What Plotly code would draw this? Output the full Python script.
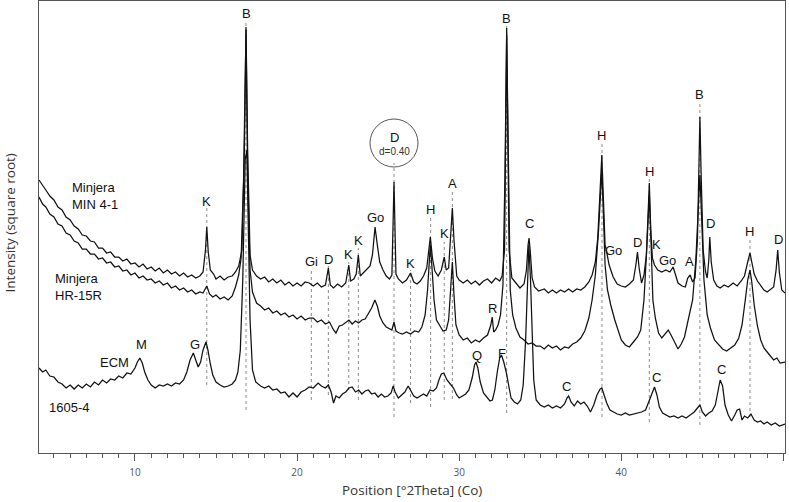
import plotly.graph_objects as go

# ---------------- data (2theta in degrees, intensity in arbitrary sqrt units) ----------------
min41_x = [4.08,4.3,4.5,4.75,5.0,5.25,5.5,5.75,6.0,6.25,6.5,6.75,7.0,7.25,7.5,7.75,8.0,8.25,8.5,8.75,9.0,9.25,9.5,9.75,10.0,10.25,10.5,10.75,11.0,11.25,11.5,11.75,12.0,12.25,12.5,12.75,13.0,13.25,13.5,13.75,14.0,14.2,14.35,14.43,14.52,14.65,14.85,15.0,15.25,15.5,15.75,16.0,16.2,16.4,16.6,16.75,16.85,16.95,17.1,17.25,17.5,17.75,18.0,18.25,18.5,18.75,19.0,19.25,19.5,19.75,20.0,20.25,20.5,20.75,21.0,21.25,21.5,21.75,21.93,22.05,22.25,22.5,22.75,23.0,23.19,23.3,23.5,23.65,23.78,23.9,24.1,24.3,24.5,24.65,24.81,24.95,25.1,25.3,25.5,25.7,25.85,25.98,26.1,26.25,26.5,26.75,27.0,27.2,27.4,27.6,27.8,28.0,28.1,28.22,28.35,28.5,28.7,28.9,29.08,29.2,29.35,29.5,29.58,29.68,29.85,30.0,30.25,30.5,30.75,31.0,31.25,31.5,31.75,32.0,32.25,32.5,32.65,32.8,32.88,32.93,32.99,33.08,33.25,33.5,33.75,34.0,34.15,34.25,34.31,34.38,34.5,34.65,34.9,35.25,35.5,35.75,36.0,36.25,36.5,36.75,37.0,37.25,37.5,37.75,38.0,38.2,38.4,38.55,38.7,38.8,38.9,39.0,39.1,39.25,39.5,39.75,40.0,40.25,40.5,40.75,40.9,41.0,41.1,41.25,41.4,41.55,41.65,41.73,41.82,41.92,42.05,42.25,42.5,42.75,43.0,43.2,43.35,43.5,43.75,43.95,44.1,44.25,44.4,44.55,44.7,44.8,44.85,44.92,45.05,45.2,45.3,45.4,45.46,45.55,45.7,45.9,46.1,46.35,46.6,46.9,47.15,47.4,47.6,47.8,47.94,48.05,48.2,48.4,48.6,48.8,49.0,49.2,49.4,49.55,49.65,49.75,49.9,50.1]
min41_y = [273,267,263,257,253,246,243,236,233,227,224,218,217,212,211,205,205,200,201,196,196,192,194,189,190,186,189,184,186,182,185,180,183,179,181,177,180,176,178,175,177,181,203,226,201,183,179,174,177,173,176,177,181,187,203,303,426,303,198,183,177,174,176,171,174,170,173,168,171,167,170,167,171,170,167,170,166,168,185,168,165,169,166,170,188,172,174,179,198,177,180,183,187,198,226,208,191,183,177,174,178,271,179,174,170,173,180,171,169,172,177,185,198,216,195,182,177,183,196,183,185,218,245,213,177,173,170,173,169,172,168,172,174,170,175,172,177,203,333,425,333,203,175,170,165,169,183,208,215,203,175,166,162,164,160,163,160,163,161,164,161,164,163,166,171,178,191,215,263,298,253,208,201,188,176,169,167,166,169,173,188,201,185,170,178,198,238,270,223,195,188,183,181,183,181,186,178,170,167,166,175,178,171,175,213,303,336,283,203,181,175,193,216,191,173,167,165,168,166,170,167,172,177,191,200,191,179,172,167,163,161,164,166,183,203,181,163,160]

hr15r_x = [4.08,4.3,4.5,4.75,5.0,5.25,5.5,5.75,6.0,6.25,6.5,6.75,7.0,7.25,7.5,7.75,8.0,8.25,8.5,8.75,9.0,9.25,9.5,9.75,10.0,10.25,10.5,10.75,11.0,11.25,11.5,11.75,12.0,12.25,12.5,12.75,13.0,13.25,13.5,13.75,14.0,14.2,14.43,14.6,14.8,15.0,15.25,15.5,15.75,16.0,16.2,16.4,16.55,16.7,16.85,16.95,17.1,17.25,17.5,17.75,18.0,18.25,18.5,18.75,19.0,19.25,19.5,19.75,20.0,20.25,20.5,20.75,21.0,21.25,21.5,21.75,22.0,22.25,22.4,22.6,22.8,23.0,23.2,23.4,23.6,23.8,24.0,24.2,24.4,24.6,24.8,24.95,25.1,25.3,25.5,25.7,25.85,25.98,26.1,26.3,26.5,26.75,27.0,27.25,27.5,27.7,27.9,28.05,28.15,28.22,28.3,28.45,28.6,28.8,29.0,29.2,29.35,29.47,29.58,29.68,29.8,30.0,30.25,30.5,30.75,31.0,31.25,31.5,31.75,31.95,32.04,32.13,32.25,32.4,32.55,32.7,32.82,32.93,33.03,33.15,33.3,33.5,33.75,34.0,34.25,34.5,34.75,35.0,35.25,35.5,35.75,36.0,36.25,36.5,36.75,37.0,37.25,37.5,37.75,38.0,38.2,38.4,38.6,38.72,38.8,38.9,39.0,39.15,39.35,39.6,39.8,40.0,40.25,40.5,40.75,41.0,41.2,41.4,41.55,41.65,41.73,41.83,41.95,42.1,42.3,42.5,42.7,42.9,43.1,43.3,43.5,43.7,43.9,44.1,44.25,44.4,44.6,44.75,44.85,44.95,45.1,45.3,45.5,45.75,46.0,46.25,46.5,46.75,47.0,47.25,47.45,47.65,47.8,47.94,48.05,48.2,48.4,48.6,48.8,49.0,49.2,49.4,49.6,49.8,50.1]
hr15r_y = [256,249,246,239,236,229,227,220,218,212,210,204,204,199,199,194,195,190,191,186,187,182,183,178,180,175,177,173,174,170,172,168,170,165,167,163,165,161,163,159,161,160,167,159,156,158,154,156,153,157,166,178,195,273,423,283,183,161,150,147,143,145,140,142,138,140,136,138,134,137,133,135,135,131,133,129,131,123,120,127,128,131,133,129,132,130,133,134,139,145,153,147,137,130,126,124,123,131,122,120,119,121,119,122,121,126,138,163,198,208,191,153,133,127,122,123,133,163,191,158,128,118,113,115,110,113,111,115,118,128,136,121,123,128,138,168,273,418,273,163,138,125,116,113,109,110,107,107,104,108,105,107,103,106,105,109,111,115,122,135,153,178,223,263,283,238,188,163,148,133,123,113,108,106,111,116,123,153,198,238,258,213,153,135,120,115,119,123,117,111,104,109,116,131,141,153,193,253,278,238,173,138,125,113,108,104,102,105,108,115,128,153,173,183,171,148,127,113,105,101,97,93,95,90,91]

s1605_x = [4.08,4.3,4.5,4.75,5.0,5.25,5.5,5.75,6.0,6.25,6.5,6.75,7.0,7.25,7.5,7.75,8.0,8.25,8.5,8.75,9.0,9.25,9.5,9.75,10.0,10.15,10.3,10.45,10.6,10.8,11.0,11.25,11.5,11.75,12.0,12.25,12.5,12.75,13.0,13.2,13.4,13.6,13.75,13.9,14.05,14.2,14.38,14.5,14.65,14.8,15.0,15.25,15.5,15.75,16.0,16.2,16.35,16.5,16.65,16.8,16.9,17.0,17.1,17.25,17.45,17.75,18.0,18.25,18.5,18.75,19.0,19.25,19.5,19.75,20.0,20.25,20.5,20.75,21.0,21.3,21.5,21.75,21.93,22.1,22.25,22.4,22.6,22.8,23.0,23.2,23.4,23.6,23.8,24.0,24.2,24.4,24.6,24.8,25.0,25.2,25.4,25.6,25.8,25.93,26.05,26.25,26.45,26.65,26.85,27.0,27.2,27.4,27.6,27.8,28.0,28.2,28.4,28.6,28.75,28.9,29.05,29.25,29.45,29.65,29.85,30.0,30.2,30.4,30.6,30.8,30.95,31.04,31.15,31.3,31.5,31.7,31.9,32.05,32.2,32.35,32.5,32.61,32.75,32.9,33.05,33.2,33.4,33.6,33.8,33.95,34.1,34.2,34.3,34.4,34.5,34.6,34.75,35.0,35.25,35.5,35.75,36.0,36.25,36.5,36.65,36.75,36.9,37.1,37.3,37.5,37.7,37.9,38.1,38.3,38.5,38.7,38.8,38.95,39.1,39.3,39.5,39.75,40.0,40.25,40.5,40.75,41.0,41.25,41.5,41.7,41.9,42.05,42.2,42.35,42.55,42.75,43.0,43.25,43.5,43.75,44.0,44.25,44.5,44.7,44.85,45.0,45.2,45.4,45.6,45.8,45.95,46.1,46.25,46.4,46.6,46.8,47.0,47.15,47.3,47.45,47.6,47.8,48.0,48.2,48.4,48.6,48.8,49.0,49.25,49.5,49.75,50.1]
s1605_y = [85,81,83,77,76,71,69,65,68,64,68,65,69,66,71,68,73,70,74,73,77,75,80,79,85,91,95,90,81,73,68,65,68,67,69,67,70,69,73,81,93,100,93,86,91,103,111,103,89,78,71,68,66,67,69,73,81,103,173,293,303,233,133,83,71,67,65,67,63,64,60,61,56,60,56,61,63,66,65,70,67,65,68,61,50,57,55,59,61,65,66,61,63,59,62,63,59,60,56,59,56,57,60,67,61,55,58,61,67,63,57,55,57,59,57,63,62,65,73,79,80,73,69,65,58,55,57,59,63,75,88,91,85,71,60,56,52,53,63,81,95,98,91,81,68,55,51,49,53,68,113,173,208,173,108,73,53,48,46,48,45,47,45,49,55,57,51,47,52,49,51,47,41,48,58,64,65,58,50,43,41,39,38,40,38,39,40,41,43,51,61,66,58,46,40,38,36,37,35,37,35,38,41,45,48,41,37,40,42,48,61,73,67,48,38,32,38,43,44,33,37,35,39,33,31,32,29,31,28,30,27,29]

series_names = ["Minjera MIN 4-1", "Minjera HR-15R", "1605-4"]

# phase labels: text, 2theta, height
peak_text = ["B","K","B","Go","H","A","K","K","K","D","Gi","K","C","H","Go","D","K","H","Go","A","B","D","H","D","R","Q","F","C","C","C","M","ECM","G"]
peak_pos = [16.88,14.43,32.93,24.81,28.22,29.58,29.08,23.78,23.19,21.93,20.88,27.0,34.31,38.81,39.52,41.0,42.2,41.73,42.83,44.18,44.85,45.48,47.94,49.67,32.03,31.1,32.64,36.65,42.2,46.21,10.43,8.71,13.68]
peak_h = [440,252,435,236,244,270,220,213,199,194,192,190,230,318,203,211,209,282,193,192,359,230,222,214,145,98,100,67,76,84,109,91,109]

# dotted reference lines: 2theta, top, bottom
ref_pos = [14.43,16.85,20.88,21.93,23.19,23.78,25.98,27.0,28.24,29.08,29.58,32.93,38.81,41.73,44.85,47.94]
ref_top = [245,433,185,187,191,205,290,183,236,211,263,428,311,275,351,213]
ref_bot = [68,43,53,58,63,53,36,50,46,53,54,40,36,31,28,36]

# ---------------- figure ----------------
fig = go.Figure()

shapes = []
for xp, t, b in zip(ref_pos, ref_top, ref_bot):
    shapes.append(dict(type="line", xref="x", yref="y", x0=xp, x1=xp, y0=b, y1=t,
                       line=dict(color="#8a8a8a", width=1, dash="dot"), layer="below"))
# d-spacing circle around the D label
shapes.append(dict(type="circle", xref="x", yref="y", x0=24.50, x1=27.46, y0=286, y1=334,
                   line=dict(color="#555555", width=1)))

for xs, ys, nm in zip([min41_x, hr15r_x, s1605_x], [min41_y, hr15r_y, s1605_y], series_names):
    fig.add_trace(go.Scatter(x=xs, y=ys, mode="lines", name=nm,
                             line=dict(color="#111111", width=1.25), showlegend=False))

ann = []
lab_font = dict(family="Liberation Sans, Arial, sans-serif", size=13, color="#111111")
for t, xp, h in zip(peak_text, peak_pos, peak_h):
    ann.append(dict(x=xp, y=h, xref="x", yref="y", text=t, showarrow=False,
                    font=lab_font, xanchor="center", yanchor="middle"))
ann.append(dict(x=25.98, y=316, xref="x", yref="y", text="D", showarrow=False,
                font=lab_font, xanchor="center", yanchor="middle"))
ann.append(dict(x=25.98, y=302, xref="x", yref="y", text="d=0.40", showarrow=False,
                font=dict(family="Liberation Sans, Arial, sans-serif", size=10, color="#333333"),
                xanchor="center", yanchor="middle"))
ann.append(dict(x=5.99, y=257, xref="x", yref="y", text="Minjera<br>MIN 4-1", showarrow=False,
                font=lab_font, xanchor="left", yanchor="middle", align="left"))
ann.append(dict(x=4.94, y=166, xref="x", yref="y", text="Minjera<br>HR-15R", showarrow=False,
                font=lab_font, xanchor="left", yanchor="middle", align="left"))
ann.append(dict(x=4.57, y=46, xref="x", yref="y", text="1605-4", showarrow=False,
                font=lab_font, xanchor="left", yanchor="middle"))
ann.append(dict(x=0.4035, y=-0.0825, xref="paper", yref="paper", text="Position [°2Theta] (Co)",
                showarrow=False, font=dict(family="Open Sans, sans-serif", size=13.5, color="#333333"),
                xanchor="left", yanchor="middle"))
ann.append(dict(x=-0.0389, y=0.51, xref="paper", yref="paper", text="Intensity (square root)",
                showarrow=False, textangle=-90,
                font=dict(family="Open Sans, sans-serif", size=13.5, color="#333333"),
                xanchor="center", yanchor="middle"))

fig.update_layout(
    width=789, height=502,
    margin=dict(l=39, r=4, t=1, b=49),
    paper_bgcolor="white", plot_bgcolor="white",
    shapes=shapes, annotations=ann,
    xaxis=dict(range=[4.08, 50.1], showgrid=False, zeroline=False,
               showline=True, linecolor="#555555", linewidth=1, mirror=True,
               ticks="outside", ticklen=7, tickcolor="#555555", tick0=0, dtick=10,
               ticklabelstandoff=3,
               tickfont=dict(family="Open Sans, sans-serif", size=10, color="#555555"),
               minor=dict(dtick=1, tick0=0, ticks="outside", ticklen=4, tickcolor="#555555", showgrid=False)),
    yaxis=dict(range=[0, 452], showgrid=False, zeroline=False, showticklabels=False,
               showline=True, linecolor="#555555", linewidth=1, mirror=True, ticks=""),
)

fig.write_html("out.html")
